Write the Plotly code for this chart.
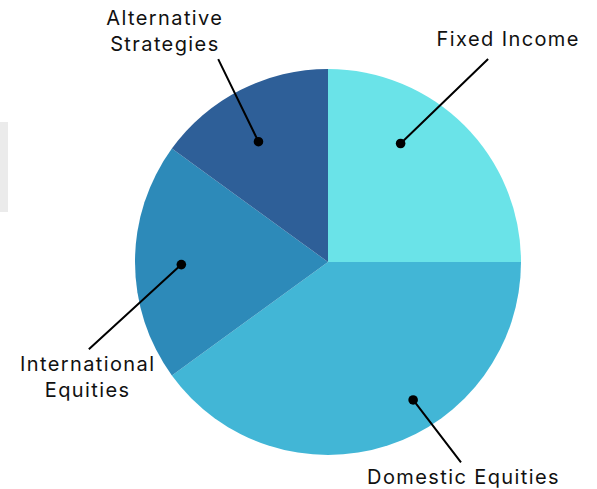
import math
import plotly.graph_objects as go

categories = ["Fixed Income", "Domestic Equities", "International Equities", "Alternative Strategies"]
values = [25, 40, 20, 15]
label_text = ["Fixed Income", "Domestic Equities", "International<br>Equities", "Alternative<br>Strategies"]
colors = ["#6AE3E8", "#42B6D6", "#2D8AB9", "#2E5F98"]

W, H = 597, 489
CX, CY, R = 328, 262, 193

# leader styling: position of the dot inside each slice (fraction of sweep, fraction of radius)
dot_frac = [0.35, 0.405, 0.486, 0.444]
dot_rad = [0.72, 0.84, 0.76, 0.72]
# line tail offset in pixels from the dot
tail_off = [(89, -86), (49, 64), (-94, 86), (-41, -84)]
# label centre (pixels)
label_pos = [(508, 39), (463, 477), (87, 377), (165, 31)]

fig = go.Figure(go.Pie(
    labels=categories, values=values, sort=False, direction="clockwise", rotation=0,
    marker=dict(colors=colors, line=dict(width=0)), textinfo="none", hoverinfo="label+percent",
    showlegend=False,
    domain=dict(x=[(CX - R) / W, (CX + R) / W], y=[(H - CY - R) / H, (H - CY + R) / H]),
))

total = sum(values)
start = 0.0
annotations = []
for i, v in enumerate(values):
    sweep = 360.0 * v / total
    ang = math.radians(start + dot_frac[i] * sweep)
    start += sweep
    px = CX + dot_rad[i] * R * math.sin(ang)
    py = CY - dot_rad[i] * R * math.cos(ang)
    annotations.append(dict(
        x=px / W, y=1 - py / H, xref="paper", yref="paper", text="",
        showarrow=True, arrowhead=6, arrowsize=1.2, arrowwidth=2, arrowcolor="#000000",
        ax=tail_off[i][0], ay=tail_off[i][1], standoff=0,
    ))
    lx, ly = label_pos[i]
    annotations.append(dict(
        x=lx / W, y=1 - ly / H, xref="paper", yref="paper", text=label_text[i],
        showarrow=False, xanchor="center", yanchor="middle",
        font=dict(family="Inter, Lato, sans-serif", size=20, color="#111111"),
    ))

fig.update_layout(
    width=W, height=H, margin=dict(l=0, r=0, t=0, b=0),
    paper_bgcolor="white", plot_bgcolor="white",
    annotations=annotations,
    shapes=[dict(type="rect", xref="paper", yref="paper", x0=0, x1=8 / W,
                 y0=1 - 212 / H, y1=1 - 122 / H, fillcolor="#EBEBEB", line=dict(width=0), layer="below")],
)

post = """
document.body.style.margin = '0';
document.body.style.overflow = 'hidden';
document.querySelectorAll('.annotation-text').forEach(function(el){ el.style.letterSpacing = '1.4px'; });
"""
fig.write_html("out.html", post_script=post, config={"displayModeBar": False})
